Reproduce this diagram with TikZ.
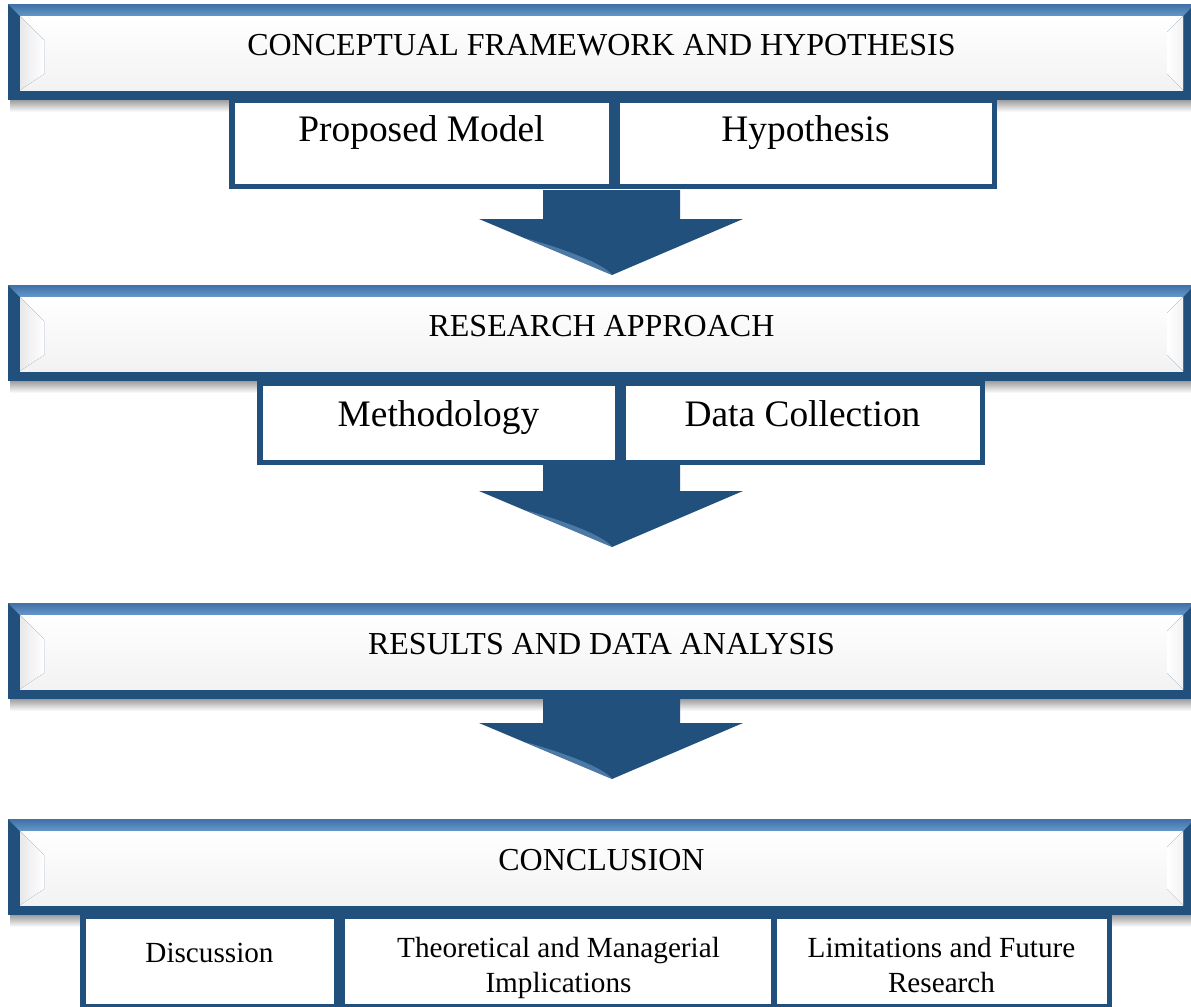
\documentclass[tikz,border=0pt]{standalone}
\usepackage{fontspec}
\setmainfont{Liberation Serif}
\usetikzlibrary{positioning, calc}

\definecolor{bluedark}{RGB}{33,80,124}
\definecolor{bluetop}{RGB}{102,152,204}
\definecolor{blueedge}{RGB}{64,112,165}
\definecolor{arrowshine}{RGB}{112,156,201}

\begin{document}
\begin{tikzpicture}[
  x=0.5pt, y=-0.5pt,
  banner/.style = {rectangle, fill=bluedark, minimum width=593.5pt, minimum height=48pt,
    inner sep=0pt, outer sep=0pt, font=\fontsize{16}{19}\selectfont,
    text height=10.6pt, text depth=7.5pt,
    path picture={
      \coordinate (nw) at (path picture bounding box.north west);
      \coordinate (ne) at (path picture bounding box.north east);
      \coordinate (sw) at (path picture bounding box.south west);
      \coordinate (se) at (path picture bounding box.south east);
      % light top rim
      \fill[top color=blueedge, bottom color=bluetop] (nw) -- (ne)
        -- ([xshift=-6pt,yshift=-6pt]ne) -- ([xshift=6pt,yshift=-6pt]nw) -- cycle;
      % inner panel and bevels
      \fill[top color=white, bottom color=black!5]
        ([xshift=6pt,yshift=-6pt]nw) rectangle ([xshift=-6pt,yshift=5pt]se);
      \fill[left color=black!9, right color=white]
        ([xshift=6pt,yshift=-6pt]nw) -- ([xshift=18pt,yshift=-18pt]nw)
        -- ([xshift=18pt,yshift=13pt]sw) -- ([xshift=6pt,yshift=5pt]sw) -- cycle;
      \fill[right color=black!5, left color=white]
        ([xshift=-6pt,yshift=-6pt]ne) -- ([xshift=-14pt,yshift=-14pt]ne)
        -- ([xshift=-14pt,yshift=13pt]se) -- ([xshift=-6pt,yshift=5pt]se) -- cycle;
    }},
  cell/.style   = {rectangle, draw=bluedark, line width=2.75pt, fill=white, inner sep=0pt, align=center},
  big/.style    = {cell, font=\fontsize{18.7}{22}\selectfont, text height=12.4pt},
  small/.style  = {cell, font=\fontsize{14.6}{17.5}\selectfont, text height=31pt,
                   text depth=0pt, minimum height=45.25pt},
  shade/.style  = {top color=black!38, bottom color=white},
]
  \useasboundingbox (0,0) rectangle (1191,1007);

  % the four stage banners
  \node[banner] (frame) at (601.5,52) {CONCEPTUAL FRAMEWORK AND HYPOTHESIS};
  \node[banner, below=92.5pt of frame]    (approach)   {RESEARCH APPROACH};
  \node[banner, below=111pt of approach]  (results)    {RESULTS AND DATA ANALYSIS};
  \node[banner, below=60pt of results]    (conclusion) {CONCLUSION};
  \foreach \b in {frame, approach, results, conclusion}
    \fill[shade] ([xshift=1pt]\b.south west) rectangle ([yshift=-6pt]\b.south east);

  % block arrows between stages
  \foreach \t/\w/\p in {190/219/275, 465/491/547, 699/723/779} {
    \fill[bluedark] (543,\t) -- (680,\t) -- (680,\w) -- (743,\w) -- (612,\p)
      -- (479,\w) -- (543,\w) -- cycle;
    \fill[arrowshine, opacity=0.55] (525,\w+19) -- (612,\p)
      .. controls (606,\p-9) and (575,\w+33) .. cycle;
  }

  % sub-topics
  \node[big, minimum width=189.75pt, minimum height=43.25pt, text depth=14pt, anchor=north west]
    (model) at ([xshift=110.5pt, yshift=1.5pt]frame.south west) {Proposed Model};
  \node[big, minimum width=188.75pt, minimum height=43.25pt, text depth=14pt, right=0pt of model]
    (hypo) {Hypothesis};

  \node[big, minimum width=178.75pt, minimum height=39.75pt, text depth=8.5pt, anchor=north west]
    (method) at ([xshift=124.5pt, yshift=0.5pt]approach.south west) {Methodology};
  \node[big, minimum width=179.75pt, minimum height=39.75pt, text depth=8.5pt, right=0pt of method]
    (datacol) {Data Collection};

  \node[small, minimum width=126.75pt, text height=9.7pt, text depth=8.7pt, anchor=north west]
    (discuss) at ([xshift=36pt, yshift=1pt]conclusion.south west) {Discussion};
  \node[small, minimum width=216.75pt, right=0pt of discuss] (implic)
    {Theoretical and Managerial\\Implications};
  \node[small, minimum width=167.75pt, right=-3.5pt of implic] (limits)
    {Limitations and Future\\Research};
\end{tikzpicture}
\end{document}
